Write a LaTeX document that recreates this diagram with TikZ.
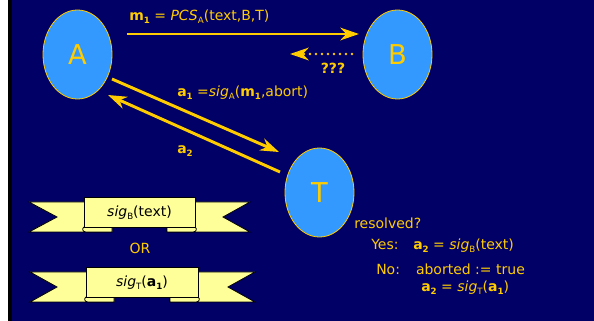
\documentclass[tikz,border=0pt]{standalone}
\usepackage{fontspec}
\setmainfont{DejaVu Sans}
\usetikzlibrary{shapes.geometric,arrows.meta,calc}
\definecolor{navy}{HTML}{000066}
\definecolor{skyb}{HTML}{3399FF}
\definecolor{gold}{HTML}{FFCC00}
\definecolor{ribbon}{HTML}{FFFF99}
\newcommand\sbs[1]{\raisebox{-0.4ex}{\fontsize{6.5}{7}\selectfont #1}}
\newcommand\ribbonshape[7]{% L notchL R notchR x1 x2 ytop(band)
  \fill[ribbon,draw=black,line width=0.6pt] (#1,#7+5) -- (#5+28,#7+5) -- (#5+28,#7+35) -- (#5+2,#7+35) -- (#1,#7+35) -- (#2,#7+20) -- cycle;
  \fill[ribbon,draw=black,line width=0.6pt] (#3,#7+5) -- (#6-28,#7+5) -- (#6-28,#7+35) -- (#6-2,#7+35) -- (#3,#7+35) -- (#4,#7+20) -- cycle;
  \draw[black,line width=0.6pt,fill=ribbon] (#5,#7+30) .. controls (#5-2,#7+31) and (#5-2,#7+35) .. (#5+2,#7+35) -- (#5+28,#7+35) -- (#5+28,#7+30);
  \draw[black,line width=0.6pt,fill=ribbon] (#6,#7+30) .. controls (#6+2,#7+31) and (#6+2,#7+35) .. (#6-2,#7+35) -- (#6-28,#7+35) -- (#6-28,#7+30);
  \fill[ribbon,draw=black,line width=0.6pt] (#5,#7) rectangle (#6,#7+30);
}
\begin{document}
\begin{tikzpicture}[x=0.75pt,y=-0.75pt,
  ell/.style={ellipse,fill=skyb,draw=gold,line width=0.6pt,minimum width=51.75pt,minimum height=66.75pt,inner sep=0pt,text=gold,font=\fontsize{20.5}{22}\selectfont},
  arr/.style={draw=gold,line width=2.2pt,-{Stealth[length=14pt,width=9.5pt,inset=4.5pt]}},
  lbl/.style={text=gold,font=\fontsize{10.5}{12}\selectfont,inner sep=0pt,anchor=west},
  rtxt/.style={text=black,font=\fontsize{10.5}{12}\selectfont,inner sep=0pt}]
\useasboundingbox (0,0) rectangle (594,321);
\fill[white] (0,0) rectangle (594,321);
\fill[black] (8,0) rectangle (13,321);
\fill[navy] (12,0) rectangle (594,321);
\node[ell] (A) at (77.5,54.5) {A};
\node[ell] (B) at (397.5,54.5) {B};
\node[ell] (T) at (319.5,192.5) {T};
\coordinate (m1s) at (127,34);
\coordinate (m1e) at (359,34);
\coordinate (qs) at (352,54);
\coordinate (qm) at (303,54);
\coordinate (qe) at (290,54);
\coordinate (a1s) at (112,79);
\coordinate (a1e) at (279,152);
\coordinate (a2s) at (280,172);
\coordinate (a2e) at (108,95);
\draw[arr] (m1s) -- (m1e);
\draw[gold,line width=2.2pt,line cap=round,dash pattern=on 0pt off 4.5pt] (qs) -- (qm);
\draw[arr] (qm) -- (qe);
\draw[arr] (a1s) -- (a1e);
\draw[arr] (a2s) -- (a2e);
\node[lbl] (lm1) at (129,17) {\textbf{m\sbs{1}} = \textit{PCS}\sbs{A}(text,B,T)};
\node[lbl,anchor=center] (lq) at (333,68) {\textbf{???}};
\node[lbl] (la1) at (177,93) {\textbf{a\sbs{1}} =\textit{sig}\sbs{A}(\textbf{m\sbs{1}},abort)};
\node[lbl] (la2) at (177,151) {\textbf{a\sbs{2}}};
\ribbonshape{29}{57}{250}{223}{84}{195}{197}
\ribbonshape{30}{57}{255}{228}{86}{198}{267}
\node[rtxt] (r1) at (139.5,213) {\textit{sig}\sbs{B}(text)};
\node[lbl,anchor=center] (or) at (140,248) {OR};
\node[rtxt] (r2) at (142,283) {\textit{sig}\sbs{T}(\textbf{a\sbs{1}})};
\node[lbl] (res) at (354,223) {resolved?};
\node[lbl] (yes) at (371,246) {Yes:\hspace{11pt}\textbf{a\sbs{2}} = \textit{sig}\sbs{B}(text)};
\node[lbl] (no) at (376,269) {No:\hspace{12pt}aborted := true};
\node[lbl] (no2) at (421,288) {\textbf{a\sbs{2}} = \textit{sig}\sbs{T}(\textbf{a\sbs{1}})};
\end{tikzpicture}
\end{document}
